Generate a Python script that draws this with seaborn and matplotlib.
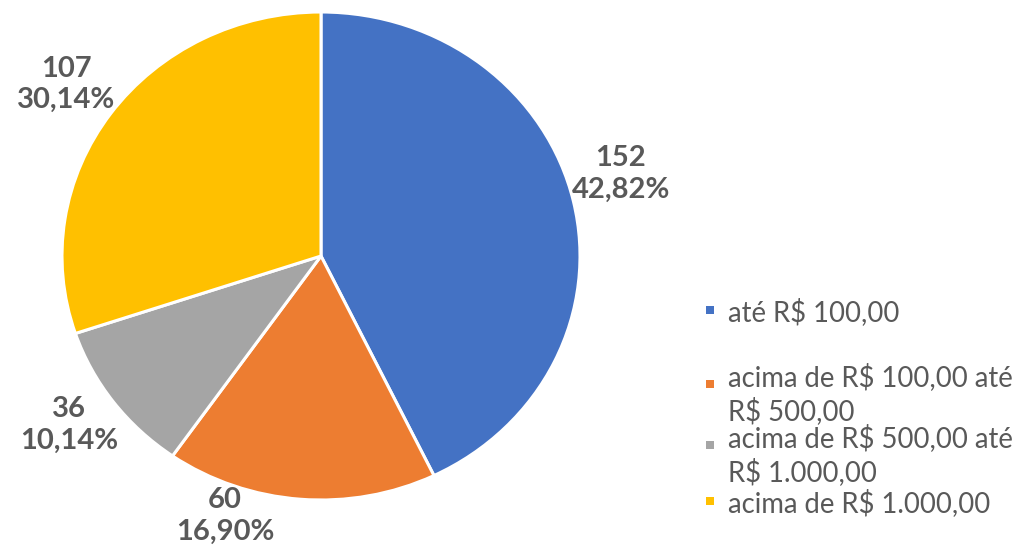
import numpy as np
import matplotlib
matplotlib.use("Agg")
import matplotlib.pyplot as plt
import matplotlib.patches as mpatches
from matplotlib.legend_handler import HandlerBase
import seaborn as sns

sns.set_theme(style="white")
plt.rcParams['font.family'] = ['Lato', 'DejaVu Sans']

categories = ["até R$ 100,00",
              "acima de R$ 100,00 até\nR$ 500,00",
              "acima de R$ 500,00 até\nR$ 1.000,00",
              "acima de R$ 1.000,00"]
values = [152, 60, 36, 107]
percent_labels = ["42,82%", "16,90%", "10,14%", "30,14%"]
colors = ["#4472C4", "#ED7D31", "#A5A5A5", "#FFC000"]

text_color = "#595959"
LINE = 1.14  # legend line height in font-size units


class TopSquare(HandlerBase):
    """Small square aligned with the first text line of a legend entry."""
    def create_artists(self, legend, orig_handle, xdescent, ydescent,
                       width, height, fontsize, trans):
        s = 0.30 * fontsize
        yc = -ydescent + height - LINE * fontsize / 2 + 0.14 * fontsize
        r = mpatches.Rectangle((-xdescent, yc - s / 2), s, s,
                               facecolor=orig_handle.get_facecolor(),
                               edgecolor='none', transform=trans)
        return [r]


fig = plt.figure(figsize=(10.22, 5.48), dpi=100)
ax = fig.add_axes([62/1022, 48/548, 518/1022, 488/548])

wedges, _ = ax.pie(values, colors=colors, startangle=90, counterclock=False,
                   wedgeprops=dict(edgecolor="white", linewidth=2.2))
ax.set_aspect('auto')
ax.set_xlim(-1, 1)
ax.set_ylim(-1, 1)
ax.axis('off')

# data labels placed along the wedge mid-angle
label_dist = [1.205, 1.129, 1.193, 1.208]
angle_nudge = [3.3, -14.6, -1.33, 0.15]
for w, v, p, d, n in zip(wedges, values, percent_labels, label_dist, angle_nudge):
    mid = np.deg2rad((w.theta1 + w.theta2) / 2 + n)
    ax.text(d * np.cos(mid), d * np.sin(mid), f"{v}\n{p}",
            ha='center', va='center', fontsize=21, fontweight='bold',
            color=text_color, linespacing=1.26, clip_on=False)

# legend (one per entry to mimic the spacing of the original)
legend_centers = [0.4307, 0.281, 0.1697, 0.0821]
for w, lab, c, yc in zip(wedges, categories, colors, legend_centers):
    nlines = lab.count("\n") + 1
    h = mpatches.Patch(facecolor=c, edgecolor='none')
    leg = fig.legend([h], [lab], loc='center left',
                     bbox_to_anchor=(0.691, yc),
                     frameon=False, fontsize=19.8, labelcolor=text_color,
                     handlelength=0.30, handleheight=LINE * nlines,
                     handletextpad=0.5, borderpad=0, borderaxespad=0,
                     handler_map={mpatches.Patch: TopSquare()})
    for t in leg.get_texts():
        t.set_linespacing(1.25)

fig.savefig("out.png", dpi=100)
